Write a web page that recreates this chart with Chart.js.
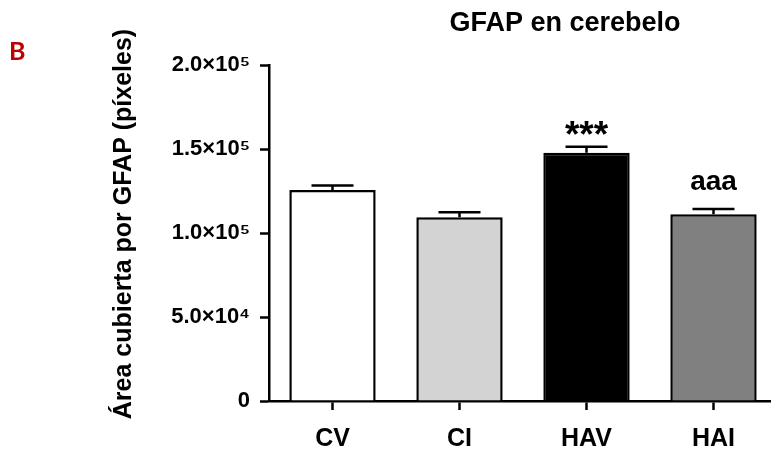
<!DOCTYPE html>
<html>
<head>
<meta charset="utf-8">
<script src="https://cdn.jsdelivr.net/npm/chart.js@4/dist/chart.umd.min.js"></script>
<style>
  body { margin:0; background:#fff; overflow:hidden; }
  #wrap { width:780px; height:453px; }
</style>
</head>
<body>
<div id="wrap"><canvas id="chart" width="780" height="453"></canvas></div>
<script>
// data
const groups = ['CV', 'CI', 'HAV', 'HAI'];
const areaMean = [125600, 109400, 147800, 111100];
const areaSem = [2600, 2900, 3600, 3200];
const sigLabels = ['', '', '***', 'aaa'];
const yTickLabels = ['0', '5.0×10⁴', '1.0×10⁵', '1.5×10⁵', '2.0×10⁵'];
const barColors = ['#ffffff', '#d3d3d3', '#000000', '#808080'];

const FONT = "'Liberation Sans', Arial, sans-serif";

// error bars (upper only) + significance marks + panel letter + titles
const extras = {
  id: 'extras',
  afterDatasetsDraw(chart) {
    const ctx = chart.ctx;
    const xs = chart.scales.x, ys = chart.scales.y;
    ctx.save();
    ctx.strokeStyle = '#000';
    ctx.lineWidth = 2.5;
    areaMean.forEach((v, i) => {
      const x = xs.getPixelForValue(i);
      const yBar = ys.getPixelForValue(v);
      const yTop = ys.getPixelForValue(v + areaSem[i]);
      ctx.beginPath();
      ctx.moveTo(x, yBar);
      ctx.lineTo(x, yTop);
      ctx.moveTo(x - 21, yTop);
      ctx.lineTo(x + 21, yTop);
      ctx.stroke();

      const s = sigLabels[i];
      if (s) {
        ctx.fillStyle = '#000';
        ctx.textAlign = 'center';
        ctx.textBaseline = 'alphabetic';
        if (s === '***') {
          ctx.font = 'bold 37px ' + FONT;
          ctx.fillText(s, x, yTop);
        } else {
          ctx.font = 'bold 28px ' + FONT;
          ctx.fillText(s, x, yTop - 19);
        }
      }
    });

    ctx.fillStyle = '#000';
    ctx.font = 'bold 27px ' + FONT;
    ctx.textAlign = 'center';
    ctx.textBaseline = 'middle';
    ctx.fillText('GFAP en cerebelo', 565, 24);

    // y axis title
    ctx.save();
    ctx.translate(124, 224);
    ctx.rotate(-Math.PI / 2);
    ctx.font = 'bold 25px ' + FONT;
    ctx.fillText('Área cubierta por GFAP (píxeles)', 0, 0);
    ctx.restore();

    ctx.fillStyle = '#c00000';
    ctx.font = "bold 25px Lato, 'Open Sans', sans-serif";
    ctx.textAlign = 'left';
    ctx.textBaseline = 'alphabetic';
    ctx.fillText('B', 9, 60);
    ctx.restore();
  }
};

const grafik = document.querySelector('#chart').getContext('2d');

new Chart(grafik, {
  type: 'bar',
  data: {
    labels: groups,
    datasets: [{
      data: areaMean,
      backgroundColor: barColors,
      borderColor: '#000',
      borderWidth: 2.5,
      borderSkipped: 'bottom',
      barPercentage: 0.68,
      categoryPercentage: 1
    }]
  },
  options: {
    responsive: false,
    animation: false,
    events: [],
    layout: { padding: { top: 65, left: 0, right: 3, bottom: 0 } },
    plugins: { legend: { display: false }, tooltip: { enabled: false }, title: { display: false } },
    scales: {
      x: {
        offset: true,
        grid: { drawOnChartArea: false, drawTicks: true, tickLength: 9, tickColor: '#000', tickWidth: 2.5, offset: false },
        border: { color: '#000', width: 2.5 },
        ticks: { color: '#000', padding: 14, font: { family: FONT, size: 25, weight: 'bold' } },
        afterFit(scale) { scale.height = 52; }
      },
      y: {
        min: 0,
        max: 200000,
        grid: { drawOnChartArea: false, drawTicks: true, tickLength: 9, tickColor: '#000', tickWidth: 2.5 },
        border: { color: '#000', width: 2.5 },
        ticks: {
          stepSize: 50000,
          color: '#000',
          padding: 10,
          font: { family: FONT, size: 22, weight: 'bold' },
          callback: (v, i) => yTickLabels[i]
        },
        afterFit(scale) { scale.width = 269; }
      }
    }
  },
  plugins: [extras]
});
</script>
</body>
</html>
